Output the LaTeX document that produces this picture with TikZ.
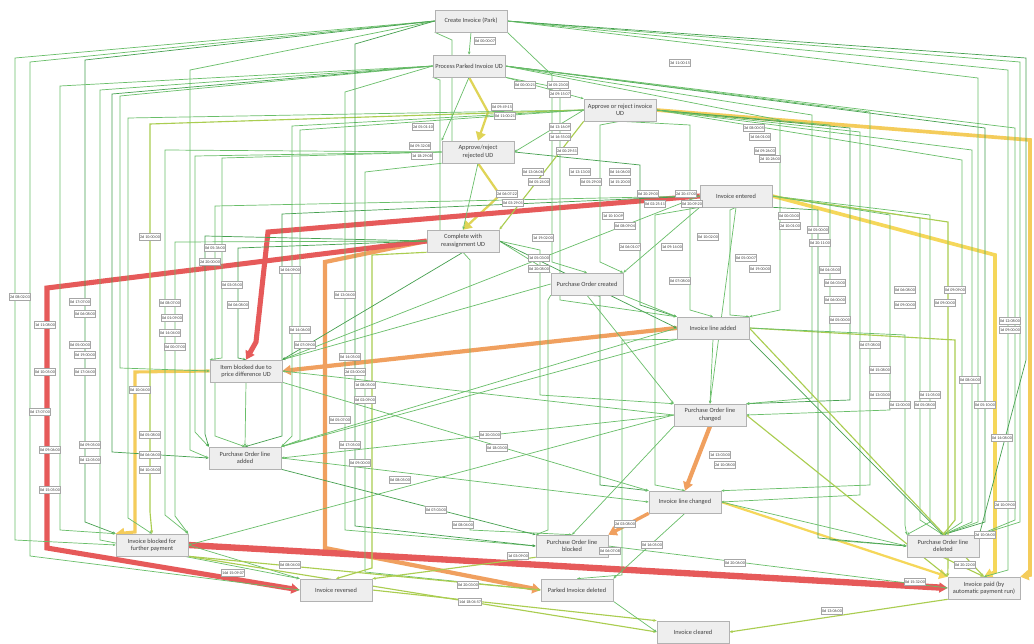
\documentclass[tikz,border=0pt]{standalone}
\usepackage[dvipsnames]{xcolor}
\usepackage{fontspec}
\setmainfont{Carlito}
\usetikzlibrary{positioning,calc,arrows.meta,shadows,backgrounds}
\definecolor{FlowGreen}{RGB}{105,190,105}
\definecolor{FlowDark}{RGB}{70,160,80}
\definecolor{FlowLime}{RGB}{170,205,80}
\definecolor{FlowYellow}{RGB}{245,215,90}
\definecolor{FlowOrange}{RGB}{240,160,95}
\definecolor{FlowRed}{RGB}{230,90,90}
\definecolor{BoxGray}{RGB}{238,238,238}

\begin{document}
\begin{tikzpicture}[x=0.025cm, y=-0.025cm,
  every node/.style={font=\fontsize{4.5}{5.2}\selectfont},
  act/.style={draw=gray!60, fill=BoxGray, minimum width=1.8cm, minimum height=0.55cm,
    align=center, inner sep=1pt, text=black!75,
    drop shadow={shadow xshift=0.8pt, shadow yshift=-0.8pt, opacity=0.3}},
  dur/.style={draw=gray!70, fill=white, inner sep=0.6pt, minimum height=5pt,
    text=black!75, font=\fontsize{2.9}{3}\selectfont},
  gflow/.style={FlowGreen, line width=0.5pt, -{Stealth[length=2.2pt,width=1.8pt]}},
  dflow/.style={FlowDark, line width=0.5pt, -{Stealth[length=2.2pt,width=1.8pt]}},
  lflow/.style={FlowLime, line width=0.8pt, -{Stealth[length=2.5pt,width=2pt]}},
  heavy/.style={line width=#1, -{Triangle[length=6pt,width=7pt]}}]
  \useasboundingbox (0,0) rectangle (1034,644);

  \node[act] (cip) at (471,21)  {Create Invoice (Park)};
  \node[act] (ppi) at (469,66)  {Process Parked Invoice UD};
  \node[act] (apr) at (620,110) {Approve or reject invoice\\UD};
  \node[act] (arr) at (478,152) {Approve/reject\\rejected UD};
  \node[act] (ien) at (736,196) {Invoice entered};
  \node[act] (crd) at (463,241) {Complete with\\reassignment UD};
  \node[act] (poc) at (587,284) {Purchase Order created};
  \node[act] (ila) at (713,328) {Invoice line added};
  \node[act] (ibp) at (246,371) {Item blocked due to\\price difference UD};
  \node[act] (plc) at (710,415) {Purchase Order line\\changed};
  \node[act] (pla) at (245,458) {Purchase Order line\\added};
  \node[act] (ilc) at (685,502) {Invoice line changed};
  \node[act] (ibf) at (152,545) {Invoice blocked for\\further payment};
  \node[act] (plb) at (572,546) {Purchase Order line\\blocked};
  \node[act] (pld) at (943,546) {Purchase Order line\\deleted};
  \node[act] (irv) at (336,590) {Invoice reversed};
  \node[act] (pid) at (577,590) {Parked Invoice deleted};
  \node[act] (ipd) at (984,588) {Invoice paid (by\\automatic payment run)};
  \node[act] (icl) at (693,632) {Invoice cleared};

  \begin{scope}[on background layer]
    \fill[white] (0,0) rectangle (1034,644);
    \draw[heavy=2.6pt, FlowYellow!80!FlowOrange] (apr.east) -- (1030,140) -- (1030,575) -- (ipd.north east);
    \draw[heavy=2.6pt, FlowYellow] (ien.east) -- (995,255) -- (995,572) -- (ipd.north);
    \draw[heavy=1.6pt, FlowYellow] (ilc.east) -- (ipd.north west);
    \draw[heavy=1.6pt, FlowYellow!70!FlowLime] (ppi.south) -- (488,112) -- (arr.north);
    \draw[heavy=1.6pt, FlowYellow!70!FlowLime] (arr.south) -- (500,195) -- (crd.north);
    \draw[heavy=2.2pt, FlowYellow!80!FlowOrange] (ibp.west) -- (135,372) -- (135,532) -- (ibf.north west);
    \draw[heavy=3pt, FlowOrange] (ila.west) -- (ibp.east);
    \draw[heavy=3pt, FlowOrange] (crd.west) -- (325,262) -- (325,548) -- (pid.west);
    \draw[heavy=3pt, FlowOrange] (plc.south) -- (693,470) -- (ilc.north);
    \draw[heavy=2.4pt, FlowOrange] (ilc.south west) -- (plb.north east);
    \draw[heavy=3.6pt, FlowRed] (crd.west) -- (47,288) -- (47,548) -- (irv.west);
    \draw[heavy=3.6pt, FlowRed] (ien.west) -- (268,232) -- (256,342) -- (ibp.north);
    \draw[heavy=4.5pt, FlowRed] (ibf.east) -- (ipd.west);

    \foreach \s/\t/\xa/\ya/\yb/\c in {
      cip.west/ibf.west/15/58/540/gflow, cip.west/irv.west/30/62/556/gflow,
      cip.west/ibf.north west/85/60/522/dflow, ppi.west/ibf.north west/60/86/530/gflow,
      ppi.west/irv.north west/100/90/540/gflow, ppi.west/pla.west/112/94/452/dflow,
      ppi.west/ibp.west/120/96/368/gflow, cip.west/pla.west/190/70/450/gflow,
      apr.west/ibf.north/128/118/518/gflow, apr.west/ibf.north/150/124/512/lflow,
      arr.west/ibf.north east/165/150/515/gflow, arr.west/pla.north west/195/156/432/gflow,
      arr.west/ibp.north west/222/158/358/gflow, crd.west/ibp.north/238/248/358/dflow,
      crd.west/pla.north west/205/236/434/dflow, crd.west/ibf.north east/175/242/516/gflow,
      ien.west/pla.north/215/206/436/gflow, ien.west/pla.north/282/214/436/dflow,
      apr.west/pla.north east/292/126/436/gflow, apr.west/pla.north east/300/130/440/gflow,
      ppi.west/plb.west/345/92/530/gflow, cip.west/plb.west/355/44/526/dflow,
      arr.south west/pid.west/365/172/572/gflow, crd.south west/irv.north/372/255/568/lflow,
      ppi.south west/crd.west/440/80/240/gflow, cip.south west/arr.west/452/40/150/gflow,
      crd.south/plb.north/470/260/530/gflow, poc.south west/plb.north west/548/300/530/gflow,
      cip.south east/poc.north/552/75/262/gflow, ppi.south east/ila.north west/560/88/300/gflow,
      apr.south/poc.north east/600/125/262/gflow, apr.south/ila.north/690/125/310/gflow,
      arr.east/ila.north west/640/165/305/dflow, crd.east/plc.north west/540/250/395/gflow,
      ien.south/ila.north east/730/210/315/gflow, ien.south west/ilc.north/655/215/485/gflow,
      poc.south/ilc.north west/600/296/485/dflow, ila.south west/pid.north/622/340/575/gflow,
      cip.east/pld.north east/1020/62/522/gflow, cip.east/ipd.north/1008/70/570/gflow,
      cip.east/pld.north east/1026/58/360/dflow, cip.east/pld.north/978/78/522/gflow,
      ppi.east/pld.north east/1015/128/520/gflow, ppi.east/ila.north east/780/120/310/gflow,
      ppi.east/pld.north/985/128/522/dflow, apr.east/pld.north/962/160/522/gflow,
      apr.east/pld.north/972/150/522/gflow, ien.east/pld.north west/930/215/522/gflow,
      ien.east/pld.north/920/218/520/gflow, ila.east/pld.north/955/340/520/lflow,
      ien.east/ipd.north west/948/222/566/lflow, apr.east/pld.west/830/125/540/gflow,
      apr.east/plc.north east/850/128/400/dflow, apr.east/ilc.east/860/132/495/gflow,
      ien.south east/pld.west/818/210/538/dflow, ppi.east/ilc.north east/870/112/485/gflow,
      ien.east/plc.east/890/215/410/gflow, ila.east/pld.north west/905/335/525/gflow,
      ppi.east/plc.north east/812/115/398/gflow}
      \draw[\c] (\s) -- (\xa,\ya) -- (\xa,\yb) -- (\t);

    \foreach \s/\t/\c in {
      cip.south/ppi.north/gflow, ppi.south/arr.north west/gflow,
      ppi.south east/apr.north west/gflow, apr.west/arr.east/gflow,
      arr.south/crd.north/gflow, apr.south west/crd.north east/lflow,
      crd.east/poc.north west/gflow, ien.south west/poc.north east/gflow,
      poc.south east/ila.north west/gflow, crd.east/ila.west/dflow,
      ila.south/plc.north/gflow, ila.south west/pla.north east/gflow,
      ila.west/pla.north east/gflow, ien.south/plc.north/gflow,
      poc.south/plc.north west/gflow, plc.west/ibf.east/gflow,
      ila.south east/pld.north/dflow, plc.west/pla.east/gflow,
      plc.west/ibp.east/gflow, ibp.south/pla.north/gflow,
      pla.east/ilc.west/gflow, pla.south east/plb.north west/dflow,
      ibp.south east/ilc.north west/gflow, plc.south west/plb.north/gflow,
      ilc.south/pid.north east/gflow, ilc.east/pld.west/gflow,
      plc.east/ipd.north west/lflow, ibf.east/irv.north west/gflow,
      ibf.south east/pid.west/lflow, ibf.south east/icl.west/lflow,
      irv.east/icl.north west/lflow, pid.south east/icl.west/gflow,
      ipd.south west/icl.east/lflow, pld.south/ipd.north/lflow,
      plb.east/ipd.west/gflow, plb.south west/irv.north east/lflow,
      ila.east/ipd.north/lflow, ien.west/ibp.north east/gflow,
      poc.west/ibp.north east/gflow, crd.south/ibp.north east/dflow}
      \draw[\c] (\s) -- (\t);
  \end{scope}

  \foreach \px/\py/\txt [count=\i] in {
    485/41/0d 00:00:07, 680/63/3d 11:00:15, 525/85/0d 00:00:21, 558/85/1d 05:23:00,
    560/94/2d 09:15:07, 502/107/0d 09:49:15, 505/116/0d 11:00:21, 423/127/2d 05:01:10,
    560/127/0d 13:16:09, 560/137/1d 16:55:00, 567/151/2d 00:29:51, 420/146/0d 09:32:08,
    422/156/1d 18:29:08, 754/128/3d 08:00:05, 760/137/1d 06:01:00, 765/151/0d 09:26:03,
    770/159/2d 10:26:00, 533/172/0d 13:06:06, 539/182/0d 05:24:00, 580/172/1d 13:13:00,
    591/182/0d 05:29:00, 620/172/0d 14:06:00, 620/182/1d 15:20:00, 507/194/2d 06:07:22,
    513/203/0d 03:29:01, 648/194/0d 20:29:00, 686/194/2d 20:47:00, 655/204/0d 02:25:11,
    692/204/0d 20:09:20, 613/216/1d 10:10:09, 625/226/0d 08:09:04, 543/238/1d 19:02:00,
    630/247/2d 06:01:07, 672/247/1d 09:14:00, 708/237/0d 10:02:00, 539/258/1d 05:03:00,
    539/269/0d 20:08:00, 746/258/0d 05:00:07, 760/269/0d 19:00:00, 680/281/0d 07:08:00,
    789/216/0d 00:03:00, 790/226/2d 10:01:00, 150/237/2d 10:00:00, 215/248/0d 05:36:00,
    210/262/2d 20:00:00, 20/297/2d 08:02:03, 45/325/1d 11:08:00, 80/302/0d 17:07:00,
    85/314/0d 06:08:00, 80/345/0d 05:00:00, 85/355/0d 19:00:00, 85/372/0d 17:04:00,
    45/372/0d 10:05:00, 40/412/0d 17:07:00, 50/450/0d 09:06:00, 50/490/0d 15:05:00,
    90/445/0d 09:05:00, 90/460/0d 12:05:00, 170/303/0d 08:07:00, 172/318/0d 01:09:00,
    170/333/0d 14:04:00, 175/347/0d 00:07:00, 140/390/0d 10:04:00, 150/435/0d 05:08:00,
    150/455/0d 06:06:00, 150/470/0d 10:05:00, 232/285/0d 03:05:00, 238/305/0d 06:08:00,
    290/270/1d 04:09:00, 300/330/0d 14:06:00, 305/345/0d 07:09:00, 345/295/0d 13:04:00,
    350/357/0d 14:05:00, 355/372/2d 03:00:00, 365/385/1d 08:05:00, 365/400/0d 02:09:00,
    340/420/0d 05:07:00, 350/445/0d 17:05:00, 360/463/0d 09:00:00, 400/480/0d 08:05:00,
    436/510/0d 07:03:00, 463/525/0d 08:04:00, 233/573/14d 15:09:07, 290/565/0d 08:04:00,
    468/585/0d 20:03:00, 518/556/1d 03:09:00, 470/602/14d 18:04:57, 610/551/0d 06:07:08,
    625/524/2d 03:08:00, 652/545/0d 16:05:00, 735/563/0d 20:06:00, 490/435/0d 20:03:00,
    497/448/0d 18:03:00, 720/455/1d 13:03:00, 725/465/2d 10:08:00, 830/270/0d 04:05:00,
    835/283/0d 06:03:00, 835/300/0d 06:00:00, 840/320/0d 05:00:00, 818/230/0d 05:00:00,
    820/243/0d 20:11:00, 905/290/0d 06:08:00, 905/305/0d 09:00:00, 870/345/0d 07:08:00,
    880/370/0d 15:08:00, 880/395/0d 13:03:00, 900/405/0d 12:00:00, 930/395/0d 11:05:00,
    925/405/0d 05:08:00, 970/380/0d 08:04:00, 985/405/0d 05:10:00, 1002/438/0d 14:08:00,
    1005/505/2d 10:09:00, 985/535/2d 10:06:00, 965/565/0d 20:22:00, 915/582/0d 15:32:00,
    832/611/0d 13:06:00, 945/303/0d 09:00:00, 955/290/0d 09:09:00, 1010/321/0d 12:08:00,
    1010/330/1d 09:00:00}
    \node[dur] (d\i) at (\px,\py) {\txt};
\end{tikzpicture}
\end{document}
